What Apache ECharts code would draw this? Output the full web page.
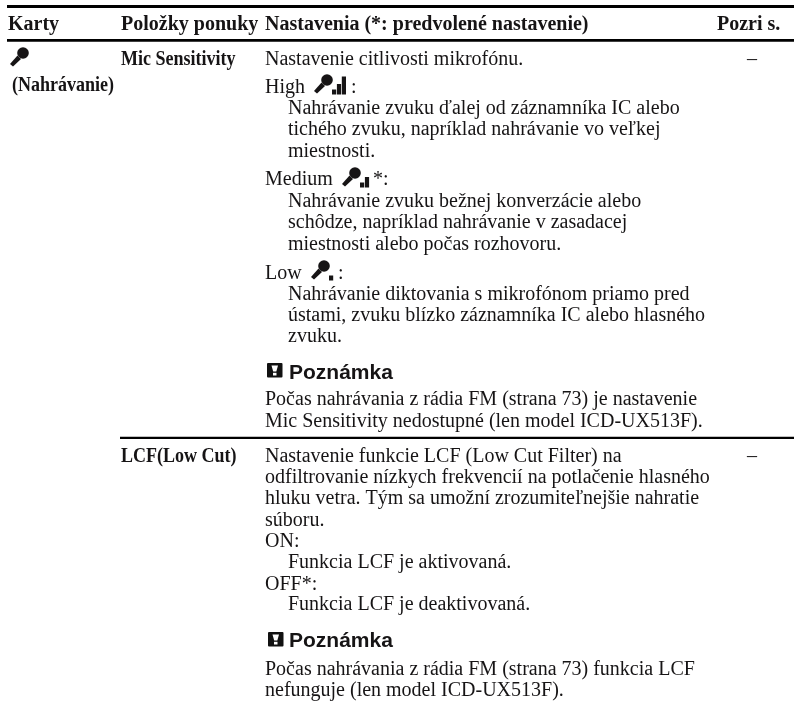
<!DOCTYPE html>
<html><head><meta charset="utf-8">
<style>html,body{margin:0;padding:0;background:#fff}#c{width:794px;height:706px}</style>
<script src="https://cdn.jsdelivr.net/npm/echarts@6/dist/echarts.min.js"></script>
</head><body><div id="c"></div>
<script>
const headers = ['Karty','Položky ponuky','Nastavenia (*: predvolené nastavenie)','Pozri s.'];
const tabName = '(Nahrávanie)';
const menuItems = ['Mic Sensitivity','LCF(Low Cut)'];
const pageRefs = ['–','–'];
const noteTitle = 'Poznámka';
const micIntro = 'Nastavenie citlivosti mikrofónu.';
const levelNames = ['High','Medium','Low'];
const levelSuffix = [':','*:',':'];
const highText = ['Nahrávanie zvuku ďalej od záznamníka IC alebo','tichého zvuku, napríklad nahrávanie vo veľkej','miestnosti.'];
const mediumText = ['Nahrávanie zvuku bežnej konverzácie alebo','schôdze, napríklad nahrávanie v zasadacej','miestnosti alebo počas rozhovoru.'];
const lowText = ['Nahrávanie diktovania s mikrofónom priamo pred','ústami, zvuku blízko záznamníka IC alebo hlasného','zvuku.'];
const micNote = ['Počas nahrávania z rádia FM (strana 73) je nastavenie','Mic Sensitivity nedostupné (len model ICD-UX513F).'];
const lcfIntro = ['Nastavenie funkcie LCF (Low Cut Filter) na','odfiltrovanie nízkych frekvencií na potlačenie hlasného','hluku vetra. Tým sa umožní zrozumiteľnejšie nahratie','súboru.'];
const lcfOptions = ['ON:','Funkcia LCF je aktivovaná.','OFF*:','Funkcia LCF je deaktivovaná.'];
const lcfNote = ['Počas nahrávania z rádia FM (strana 73) funkcia LCF','nefunguje (len model ICD-UX513F).'];

const SERIF='"Liberation Serif"', SANS='"Liberation Sans"';
const BODY='20px '+SERIF, BOLD='bold 20px '+SERIF, NOTE='bold 21px '+SANS;
const INK='#161415';
const X={tab:8,menu:121,set:265,ind:288,ref:717,dash:752};
const marks=[];
const T=(x,y,text,font,align,sx)=>marks.push({k:'t',x,y:y+1.5,text,font:font||BODY,align:align||'left',sx:sx||1});
const R=(x,y,w,h)=>marks.push({k:'r',x,y,w,h});
const M=(x,y,bars)=>marks.push({k:'m',x,y,bars});
const N=(x,y)=>marks.push({k:'n',x,y});
const block=(x,y,lines,step)=>lines.forEach((l,i)=>T(x,y+i*step,l));

R(7,5,787,3); R(7,39,787,2.8); R(120,436.8,674,2.2);
[X.tab,X.menu,X.set,X.ref].forEach((x,i)=>T(x,23,headers[i],BOLD));
M(10,53,0); T(12,84,tabName,BOLD,'left',0.9);
T(X.menu,58,menuItems[0],BOLD,'left',0.9); T(X.menu,455,menuItems[1],BOLD,'left',0.9);
T(X.dash,58,pageRefs[0],BODY,'center'); T(X.dash,455,pageRefs[1],BODY,'center');
T(X.set,58,micIntro);
T(X.set,86,levelNames[0]); M(314,80,3); T(351,86,levelSuffix[0]); block(X.ind,107,highText,21.5);
T(X.set,178,levelNames[1]); M(342,173,2); T(373,178,levelSuffix[1]); block(X.ind,200,mediumText,21.5);
T(X.set,272,levelNames[2]); M(311,266,1); T(338,272,levelSuffix[2]); block(X.ind,293,lowText,21.3);
N(267,363); T(289,372,noteTitle,NOTE); block(X.set,398,micNote,22);
block(X.set,455,lcfIntro,21.3);
T(X.set,540,lcfOptions[0]); T(X.ind,561,lcfOptions[1]); T(X.set,583,lcfOptions[2]); T(X.ind,603,lcfOptions[3]);
N(268,632); T(289,640,noteTitle,NOTE); block(X.set,668,lcfNote,21.5);

function micShapes(p,bars){
  const s={fill:INK}, out=[];
  out.push({type:'circle',shape:{cx:p[0]+13,cy:p[1],r:5.8},style:s});
  out.push({type:'polygon',shape:{points:[[p[0]+7.5,p[1]+2.5],[p[0]+11,p[1]+6],[p[0]+3,p[1]+13.5],[p[0],p[1]+11]]},style:s});
  const hs=[5,10.5,18];
  for(let i=0;i<bars;i++) out.push({type:'rect',shape:{x:p[0]+18+i*4.9,y:p[1]+14.5-hs[i],width:4.2,height:hs[i]},style:s});
  return out;
}
function renderItem(params,api){
  const m=marks[api.value(2)], p=api.coord([api.value(0),api.value(1)]);
  if(m.k==='t') return {type:'text',x:p[0],y:p[1],scaleX:m.sx,style:{x:0,y:0,text:m.text,font:m.font,fill:INK,align:m.align,verticalAlign:'middle'}};
  if(m.k==='r') return {type:'rect',shape:{x:p[0],y:p[1],width:m.w,height:m.h},style:{fill:'#000'}};
  if(m.k==='m') return {type:'group',children:micShapes(p,m.bars)};
  return {type:'group',children:[
    {type:'rect',shape:{x:p[0],y:p[1],width:15.5,height:14.5,r:1},style:{fill:'#111'}},
    {type:'polygon',shape:{points:[[p[0]+4.5,p[1]+2.5],[p[0]+11,p[1]+2.5],[p[0]+9.3,p[1]+8.5],[p[0]+6.2,p[1]+8.5]]},style:{fill:'#fff'}},
    {type:'rect',shape:{x:p[0]+6,y:p[1]+9.8,width:3.5,height:2.7},style:{fill:'#fff'}}]};
}
const chart=echarts.init(document.getElementById('c'),null,{renderer:'canvas'});
chart.setOption({animation:false,backgroundColor:'#fff',
  grid:{left:0,right:0,top:0,bottom:0},
  xAxis:{type:'value',min:0,max:794,show:false},
  yAxis:{type:'value',min:0,max:706,inverse:true,show:false},
  series:[{type:'custom',clip:false,silent:true,renderItem,encode:{x:0,y:1},
    data:marks.map((m,i)=>[m.x,m.y,i])}]});
</script></body></html>
